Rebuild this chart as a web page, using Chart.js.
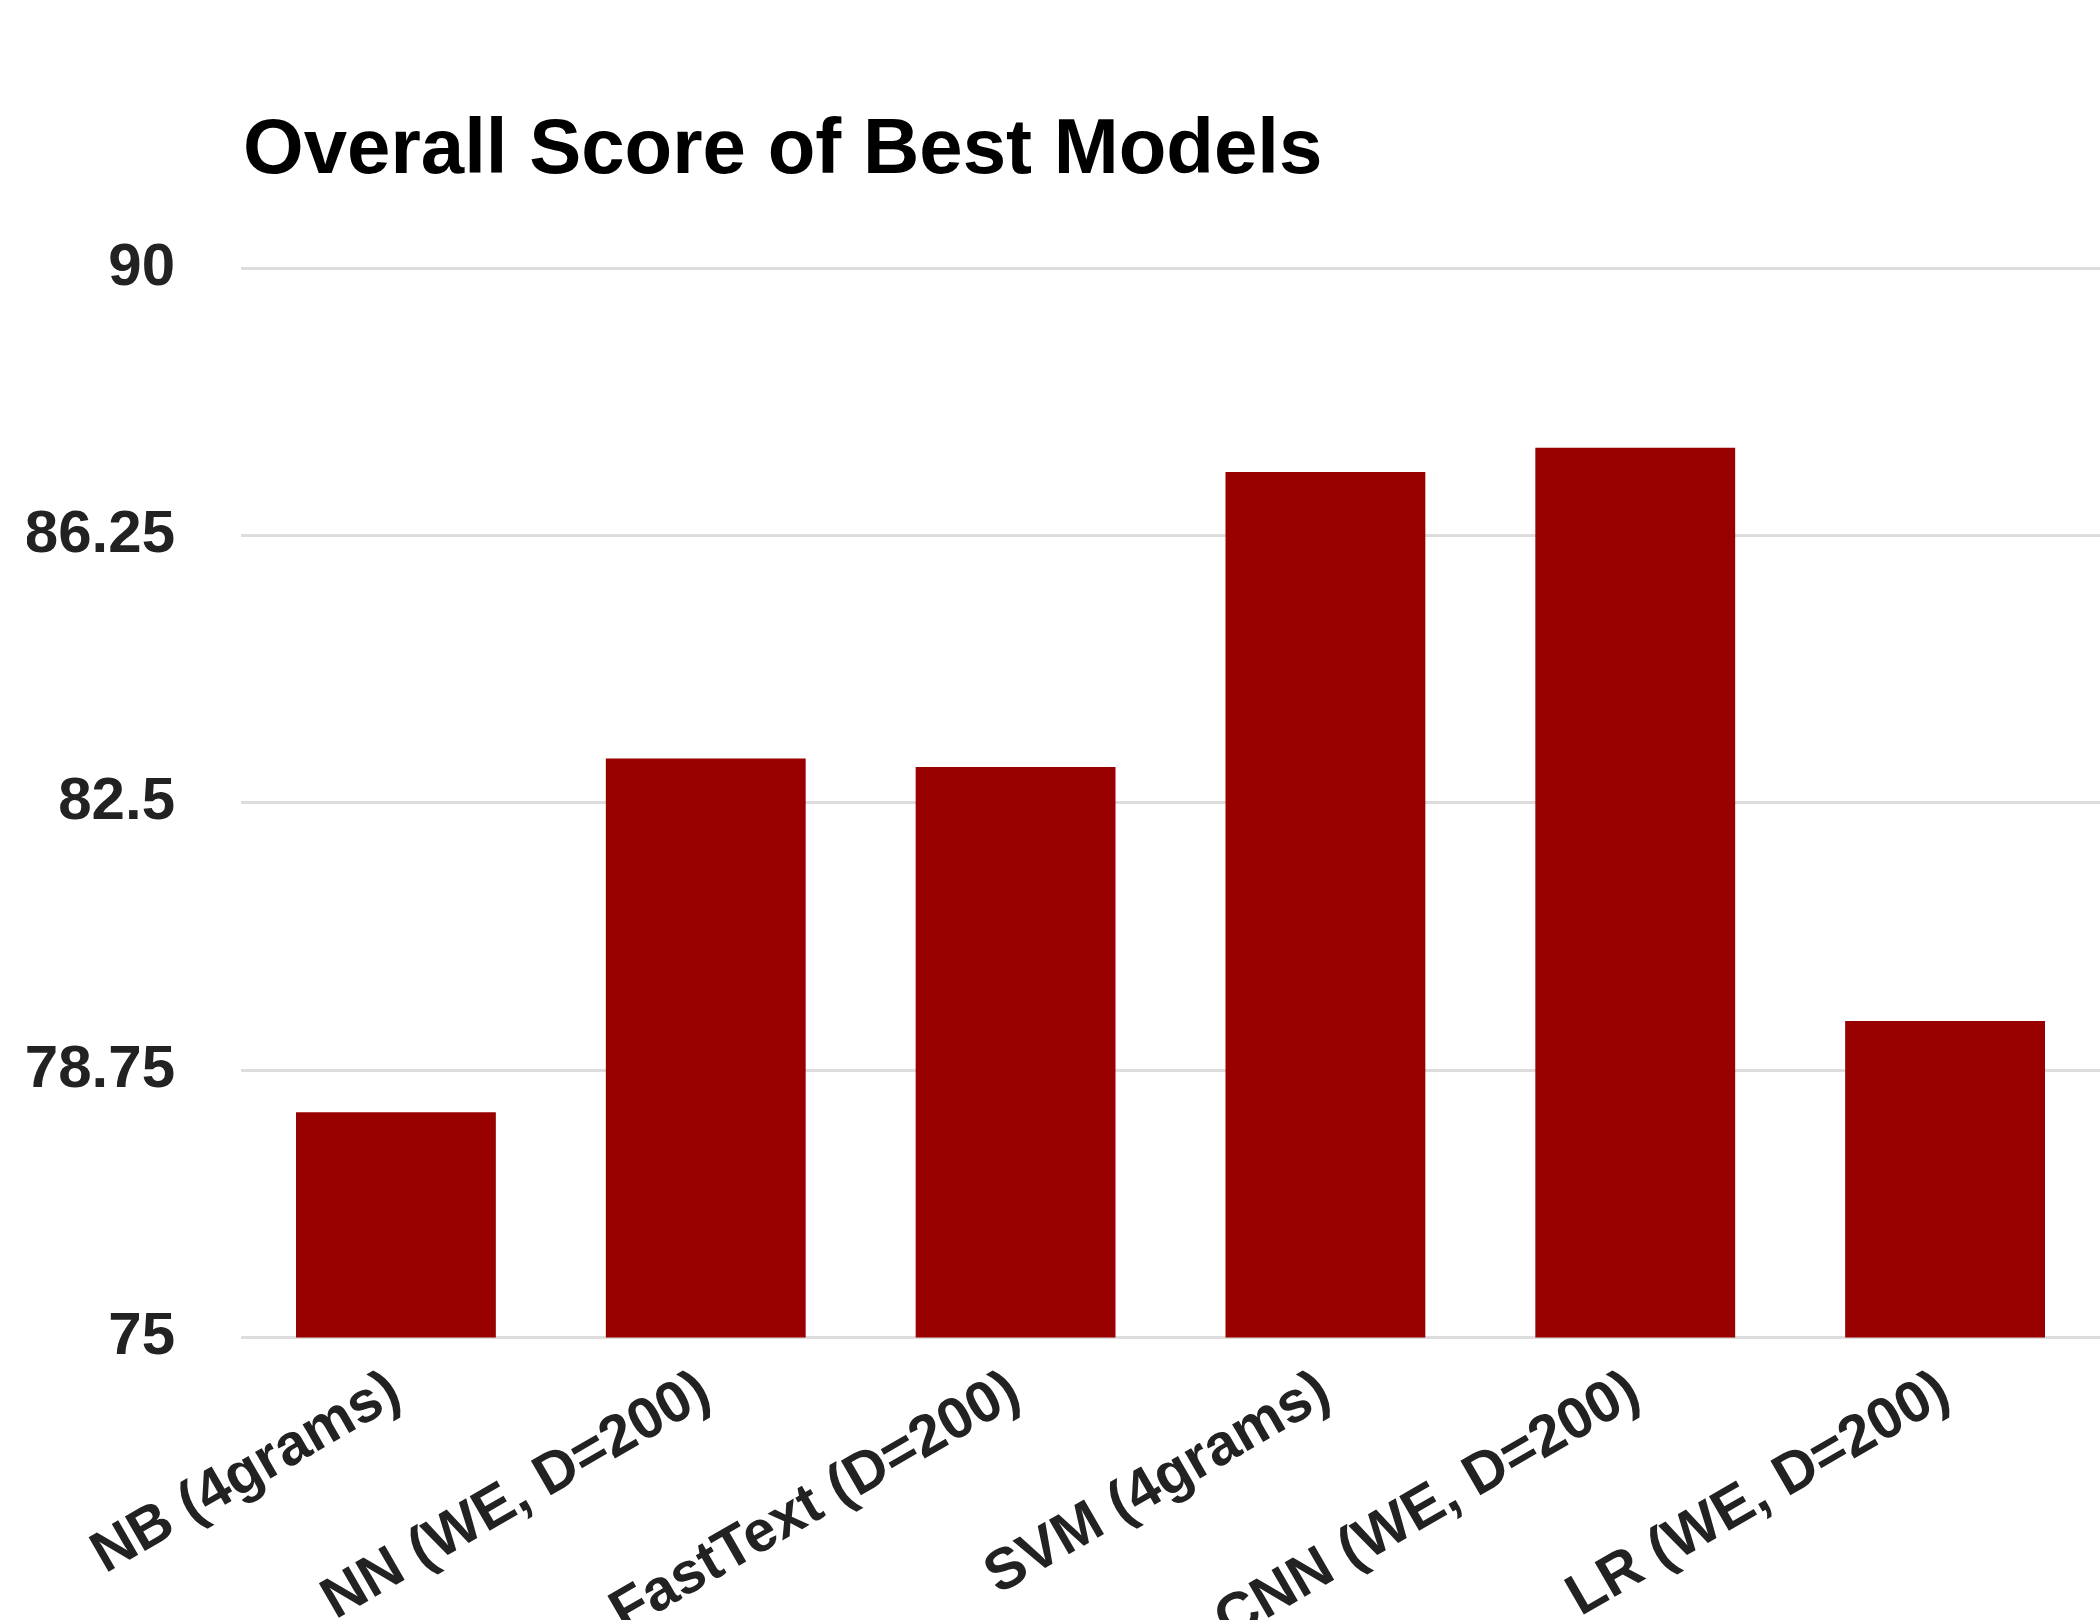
<!DOCTYPE html>
<html>
<head>
<meta charset="utf-8">
<script src="https://cdn.jsdelivr.net/npm/chart.js@4.4.1/dist/chart.umd.min.js"></script>
<style>
    html, body { margin: 0; padding: 0; background: #fff; overflow: hidden; }
    #wrap { width: 2100px; height: 1677px; }
</style>
</head>
<body>
<div id="wrap"><canvas id="chart"></canvas></div>
<script>
// Дані графіка
const categories = ['NB (4grams)', 'NN (WE, D=200)', 'FastText (D=200)', 'SVM (4grams)', 'CNN (WE, D=200)', 'LR (WE, D=200)'];
const scores = [78.16, 83.12, 83.0, 87.14, 87.48, 79.44];
const yTicks = [75, 78.75, 82.5, 86.25, 90];
const chartTitle = 'Overall Score of Best Models';

// Заголовок малюємо від лівого краю області графіка
const titlePlugin = {
    id: 'leftTitle',
    afterDraw(chart) {
        const ctx = chart.ctx;
        ctx.save();
        ctx.font = 'bold 78px "Liberation Sans", Arial, sans-serif';
        ctx.fillStyle = '#000';
        ctx.textAlign = 'left';
        ctx.textBaseline = 'alphabetic';
        ctx.fillText(chartTitle, chart.chartArea.left + 2, 173);
        ctx.restore();
    }
};

document.addEventListener('DOMContentLoaded', () => {
    const ctx = document.getElementById('chart').getContext('2d');

    new Chart(ctx, {
        type: 'bar',
        data: {
            labels: categories,
            datasets: [{
                label: 'Score',
                data: scores,
                backgroundColor: '#990000',
                borderWidth: 0,
                barPercentage: 0.645,
                categoryPercentage: 1.0
            }]
        },
        options: {
            responsive: true,
            maintainAspectRatio: false,
            animation: false,
            layout: {
                padding: { top: 268, left: 27, right: 0, bottom: 0 }
            },
            plugins: {
                legend: { display: false },
                title: { display: false },
                tooltip: { enabled: false }
            },
            scales: {
                x: {
                    grid: { display: false, drawTicks: false },
                    border: { display: false },
                    afterFit: scale => {
                        scale.paddingLeft = 0;
                        scale.paddingRight = 0;
                    },
                    ticks: {
                        autoSkip: false,
                        maxRotation: 30,
                        minRotation: 30,
                        padding: 20,
                        color: '#222',
                        font: { family: '"Liberation Sans", Arial, sans-serif', size: 58, weight: 'bold' }
                    }
                },
                y: {
                    min: 75,
                    max: 90,
                    afterBuildTicks: axis => {
                        axis.ticks = yTicks.map(v => ({ value: v }));
                    },
                    afterFit: scale => {
                        scale.width = 214;
                    },
                    grid: { color: '#dddddd', lineWidth: 3, drawTicks: false },
                    border: { display: false },
                    ticks: {
                        padding: 66,
                        color: '#222',
                        font: { family: '"Liberation Sans", Arial, sans-serif', size: 60, weight: 'bold' },
                        callback: v => String(v)
                    }
                }
            }
        },
        plugins: [titlePlugin]
    });
});
</script>
</body>
</html>
